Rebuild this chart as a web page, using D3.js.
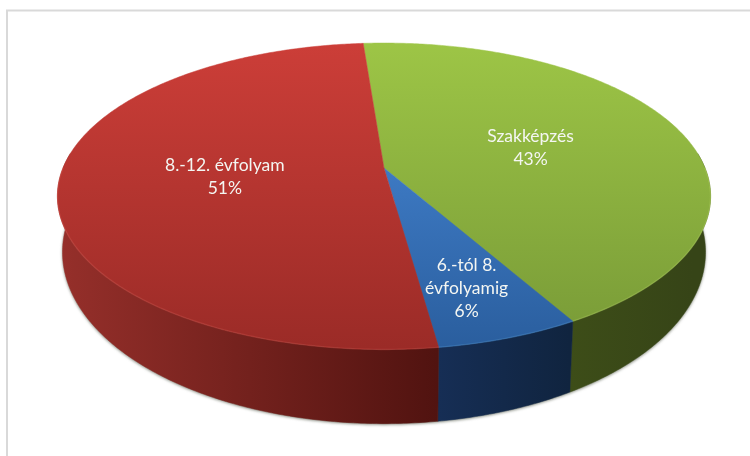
<!DOCTYPE html>
<html>
<head>
<meta charset="utf-8">
<script src="https://cdn.jsdelivr.net/npm/d3@7"></script>
<style>
  html, body { margin: 0; padding: 0; background: #fff; }
  svg { display: block; }
</style>
</head>
<body>
<svg id="chart"></svg>
<script>
const width = 750;
const height = 456;

// data, clockwise from the top
const categories = ["Szakképzés", "6.-tól 8. évfolyamig", "8.-12. évfolyam"];
const shares = [43, 6, 51];
const labelLines = [["Szakképzés"], ["6.-tól 8.", "évfolyamig"], ["8.-12. évfolyam"]];

// colours: top face [upper, lower], side wall [left, right]
const topColors = [["#9dc546", "#789a37"], ["#4a8cdc", "#2a5e9e"], ["#cc3e38", "#9b2b27"]];
const wallColors = [["#3d4d18", "#364417"], ["#162e55", "#10243f"], ["#952f2a", "#511310"]];
const labelRadius = [0.49, 0.745, 0.5];
const labelNudge = [0, -6, 2];

const svg = d3.select("#chart")
  .attr("width", width)
  .attr("height", height)
  .attr("viewBox", "0 0 " + width + " " + height);

// the disc is seen in perspective, so the slice apex is not the ellipse centre
const cx = 384;
const tilt = -0.1843;

function project(theta, r, plane) {
  const u = r * Math.sin(theta);
  const v = -r * Math.cos(theta);
  const w = 1 + tilt * v;
  return [cx + plane.sx * u / w, plane.y0 + plane.sy * v / w];
}

const topPlane = { sx: 321, sy: 148, y0: 168 };
const bottomPlane = { sx: 316, sy: 165.7, y0: 220.5 };

const pie = d3.pie()
  .sort(null)
  .startAngle(-4.4 * Math.PI / 180)
  .endAngle((360 - 4.4) * Math.PI / 180);

const slices = pie(shares);
const line = d3.line();

function arcPoints(a0, a1, plane) {
  const n = Math.max(2, Math.ceil((a1 - a0) / 0.01));
  return d3.range(n + 1).map(function (i) {
    return project(a0 + (a1 - a0) * i / n, 1, plane);
  });
}

// only the front of the disc shows its wall
const wallFrom = Math.PI / 2 - 0.1;
const wallTo = Math.PI * 1.5 + 0.1;

const defs = svg.append("defs");

slices.forEach(function (d, i) {
  const t = defs.append("linearGradient")
    .attr("id", "top" + i)
    .attr("gradientUnits", "userSpaceOnUse")
    .attr("x1", 0).attr("x2", 0).attr("y1", 43).attr("y2", 348);
  t.append("stop").attr("offset", 0).attr("stop-color", topColors[i][0]);
  t.append("stop").attr("offset", 1).attr("stop-color", topColors[i][1]);

  const a = project(Math.max(d.startAngle, wallFrom), 1, bottomPlane);
  const b = project(Math.min(d.endAngle, wallTo), 1, bottomPlane);
  const walls = defs.append("linearGradient")
    .attr("id", "wall" + i)
    .attr("gradientUnits", "userSpaceOnUse")
    .attr("y1", 0).attr("y2", 0);
  if (i === 2) {
    // red wall gets darker towards the front
    walls.attr("x1", 62).attr("x2", 437);
  } else {
    walls.attr("x1", d3.min([a[0], b[0]])).attr("x2", d3.max([a[0], b[0]]));
  }
  walls.append("stop").attr("offset", 0).attr("stop-color", wallColors[i][0]);
  walls.append("stop").attr("offset", 1).attr("stop-color", wallColors[i][1]);
});

defs.append("filter").attr("id", "soft")
  .attr("x", "-5%").attr("y", "-5%").attr("width", "110%").attr("height", "110%")
  .append("feGaussianBlur").attr("stdDeviation", 1.6);
defs.append("filter").attr("id", "rim")
  .attr("x", "-5%").attr("y", "-5%").attr("width", "110%").attr("height", "110%")
  .append("feGaussianBlur").attr("stdDeviation", 0.7);

// frame, the picture is cropped at right and bottom
svg.append("path")
  .attr("d", "M7," + height + "V10.5H" + width)
  .attr("fill", "none")
  .attr("stroke", "#d9d9d9")
  .attr("stroke-width", 2);

// soft shadow under the disc
svg.append("path")
  .attr("d", line(arcPoints(wallFrom, wallTo, bottomPlane)) + "Z")
  .attr("fill", "#7f8478")
  .attr("filter", "url(#soft)")
  .attr("transform", "translate(0,1)");

// side walls
svg.append("g")
  .selectAll("path")
  .data(slices.filter(function (d) { return d.endAngle > wallFrom; }))
  .enter()
  .append("path")
  .attr("d", function (d) {
    const a0 = Math.max(d.startAngle, wallFrom);
    const a1 = Math.min(d.endAngle, wallTo);
    const upper = arcPoints(a0, a1, topPlane);
    const lower = arcPoints(a0, a1, bottomPlane).reverse();
    return line(upper.concat(lower)) + "Z";
  })
  .attr("fill", function (d) { return "url(#wall" + d.index + ")"; })
  .attr("stroke", function (d) { return "url(#wall" + d.index + ")"; })
  .attr("stroke-width", 0.5);

// top faces
svg.append("g")
  .selectAll("path")
  .data(slices)
  .enter()
  .append("path")
  .attr("d", function (d) {
    return line([project(0, 0, topPlane)].concat(arcPoints(d.startAngle, d.endAngle, topPlane))) + "Z";
  })
  .attr("fill", function (d, i) { return "url(#top" + i + ")"; })
  .attr("stroke", function (d, i) { return "url(#top" + i + ")"; })
  .attr("stroke-width", 0.5);

// bright bevel along the front rim
svg.append("g")
  .selectAll("path")
  .data(slices)
  .enter()
  .append("path")
  .attr("d", function (d) {
    const a0 = Math.max(d.startAngle, Math.PI * 0.5);
    const a1 = Math.min(d.endAngle, Math.PI * 1.5);
    return a1 > a0 ? line(arcPoints(a0, a1, topPlane)) : null;
  })
  .attr("fill", "none")
  .attr("stroke", function (d, i) { return topColors[i][1]; })
  .attr("stroke-width", 1.4)
  .attr("filter", "url(#rim)")
  .style("mix-blend-mode", "screen")
  .attr("opacity", 0.3);

// labels
const labels = svg.append("g")
  .attr("font-family", "Lato, 'Open Sans', sans-serif")
  .attr("font-size", 17.5)
  .attr("fill", "#f4f6f2")
  .attr("text-anchor", "middle");

const lineStep = 23;

slices.forEach(function (d, i) {
  const mid = (d.startAngle + d.endAngle) / 2;
  const p = project(mid, labelRadius[i], topPlane);
  const rows = labelLines[i].concat([shares[i] + "%"]);
  const firstBaseline = p[1] - (rows.length - 1) * lineStep / 2 + 6;
  rows.forEach(function (row, k) {
    labels.append("text")
      .attr("x", p[0] + labelNudge[i])
      .attr("y", firstBaseline + k * lineStep)
      .text(row);
  });
});
</script>
</body>
</html>
